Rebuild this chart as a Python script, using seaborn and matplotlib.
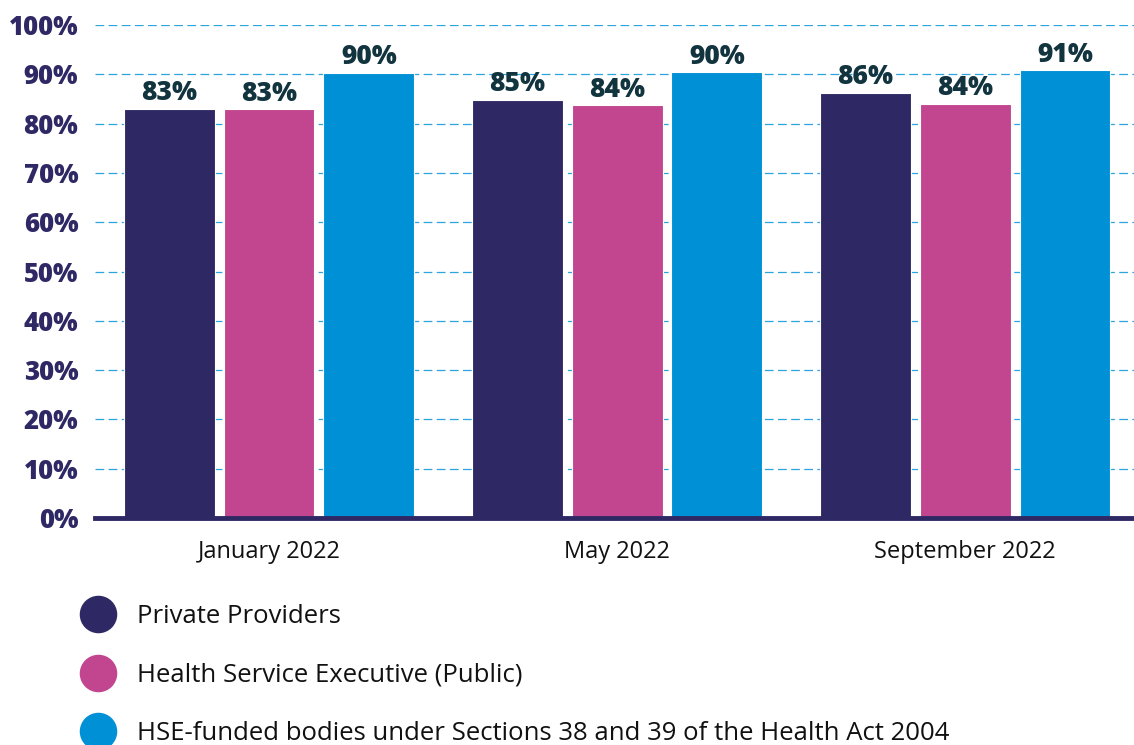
import matplotlib
matplotlib.use("Agg")
import matplotlib.pyplot as plt
from matplotlib.lines import Line2D
import seaborn as sns
import pandas as pd

months = ["January 2022", "May 2022", "September 2022"]
groups = ["Private Providers",
          "Health Service Executive (Public)",
          "HSE-funded bodies under Sections 38 and 39 of the Health Act 2004"]
private = [83.0, 84.8, 86.3]
hse = [82.9, 83.7, 84.0]
funded = [90.3, 90.4, 90.8]
yticks = list(range(0, 101, 10))

colors = ["#2e2964", "#c1458f", "#0090d5"]

df = pd.DataFrame({
    "month": months * 3,
    "group": [groups[0]] * 3 + [groups[1]] * 3 + [groups[2]] * 3,
    "value": private + hse + funded,
})

sns.set_theme(style="white")
plt.rcParams["font.family"] = ["Open Sans", "DejaVu Sans"]

fig = plt.figure(figsize=(11.34, 7.45), dpi=100)
ax = fig.add_axes([95 / 1134, (745 - 518) / 745, 1 - 95 / 1134, (518 - 25) / 745])

sns.barplot(data=df, x="month", y="value", hue="group", palette=colors,
            saturation=1, width=0.86, gap=0.09, edgecolor="white", linewidth=0.8,
            legend=False, ax=ax, zorder=3)

ax.set_ylim(0, 100)
ax.set_xlim(-0.5, 2.485)
ax.set_yticks(yticks)
ax.set_yticklabels([f"{t}%" for t in yticks], fontsize=18.5, fontweight="heavy", color="#2e2964")
ax.tick_params(axis="y", length=0, pad=12)
ax.tick_params(axis="x", length=0, pad=16, labelsize=17, labelcolor="#111111")
ax.set_xlabel("")
ax.set_ylabel("")
ax.yaxis.grid(True, color="#2aa5e0", linestyle=(0, (7, 3.5)), linewidth=0.9, zorder=0)
ax.set_axisbelow(True)
for s in ["top", "right", "left"]:
    ax.spines[s].set_visible(False)
ax.spines["bottom"].set_color("#2e2964")
ax.spines["bottom"].set_linewidth(3.5)
ax.spines["bottom"].set_zorder(5)

for cont in ax.containers:
    ax.bar_label(cont, labels=[f"{v:.0f}%" for v in cont.datavalues], padding=2,
                 fontsize=19, fontweight="heavy", color="#12343f")

handles = [Line2D([0], [0], marker="o", linestyle="", markersize=26,
                  markerfacecolor=c, markeredgecolor=c) for c in colors]
fig.legend(handles, groups, loc="upper left", bbox_to_anchor=(62 / 1134, 1 - 594 / 745),
           frameon=False, fontsize=18.5, labelspacing=1.3, handletextpad=0.5,
           borderaxespad=0, labelcolor="#111111")

fig.savefig("out.png", dpi=100)
